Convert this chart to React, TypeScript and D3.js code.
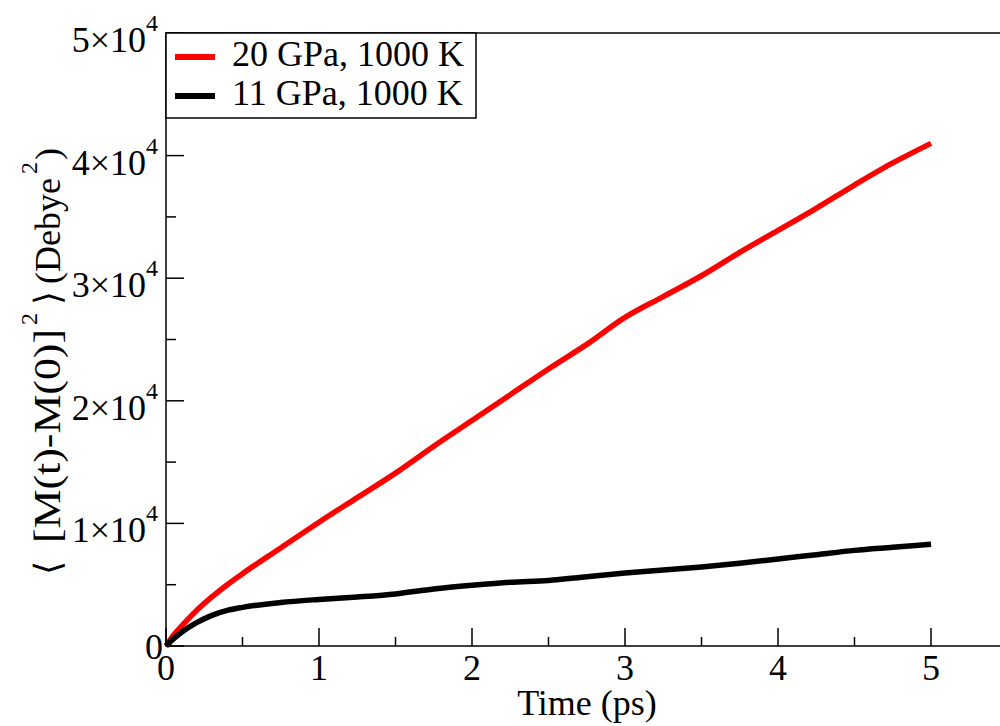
import React, { useRef, useEffect } from 'react';
import * as d3 from 'd3';

// time in ps
const times = [0, 0.05, 0.1, 0.2, 0.3, 0.4, 0.5, 0.75, 1, 1.25, 1.5, 1.75, 2, 2.25, 2.5, 2.75, 3, 3.25, 3.5, 3.75, 4, 4.25, 4.5, 4.75, 5];
// <[M(t)-M(0)]^2> in Debye^2
const gpa20 = [0, 900, 1600, 2900, 4000, 5000, 5900, 8000, 10100, 12100, 14100, 16300, 18400, 20500, 22600, 24600, 26800, 28500, 30200, 32100, 33900, 35700, 37600, 39400, 41000];
const gpa11 = [0, 600, 1100, 1900, 2500, 2900, 3150, 3550, 3800, 4000, 4250, 4650, 4950, 5200, 5350, 5650, 5950, 6200, 6450, 6750, 7100, 7450, 7800, 8050, 8300];

const seriesNames = ['20 GPa, 1000 K', '11 GPa, 1000 K'];
const seriesColors = ['#ff0000', '#000000'];

const xTicks = [0, 1, 2, 3, 4, 5];
const xMinorTicks = [0.5, 1.5, 2.5, 3.5, 4.5, 5.5];
const yTicks = [0, 10000, 20000, 30000, 40000, 50000];
const yMinorTicks = [5000, 15000, 25000, 35000, 45000];

const FONT = '"Liberation Serif", "Times New Roman", serif';

const App = () => {
  const svgRef = useRef<SVGSVGElement>(null);

  useEffect(() => {
    const width = 1000;
    const height = 726;
    const left = 166;
    const top = 33;
    const bottom = 646;

    const svg = d3.select(svgRef.current);
    svg.selectAll('*').remove();
    svg.attr('width', width).attr('height', height).attr('font-family', FONT);

    const x = d3.scaleLinear().domain([0, 5.5]).range([left, left + 153 * 5.5]);
    const y = d3.scaleLinear().domain([0, 50000]).range([bottom, top]);

    svg.append('rect').attr('width', width).attr('height', height).attr('fill', '#fff');

    // data lines
    const line = d3.line<[number, number]>()
      .curve(d3.curveMonotoneX)
      .x(d => x(d[0]))
      .y(d => y(d[1]));

    [gpa20, gpa11].forEach((vals, i) => {
      svg.append('path')
        .datum(times.map((t, j) => [t, vals[j]] as [number, number]))
        .attr('fill', 'none')
        .attr('stroke', seriesColors[i])
        .attr('stroke-width', 5.5)
        .attr('stroke-linejoin', 'round')
        .attr('d', line);
    });

    // frame
    svg.append('rect')
      .attr('x', x(0)).attr('y', y(50000))
      .attr('width', x(5.5) - x(0)).attr('height', y(0) - y(50000))
      .attr('fill', 'none').attr('stroke', '#000').attr('stroke-width', 1.5);

    // ticks, pointing inward
    const g = svg.append('g').attr('stroke', '#000').attr('stroke-width', 1.5);
    xTicks.forEach(t => {
      g.append('line').attr('x1', x(t)).attr('x2', x(t)).attr('y1', bottom).attr('y2', bottom - 18);
    });
    xMinorTicks.forEach(t => {
      g.append('line').attr('x1', x(t)).attr('x2', x(t)).attr('y1', bottom).attr('y2', bottom - 9);
    });
    yTicks.forEach(v => {
      g.append('line').attr('x1', left).attr('x2', left + 18).attr('y1', y(v)).attr('y2', y(v));
    });
    yMinorTicks.forEach(v => {
      g.append('line').attr('x1', left).attr('x2', left + 10).attr('y1', y(v)).attr('y2', y(v));
    });

    // tick labels
    xTicks.forEach(t => {
      svg.append('text')
        .attr('x', x(t)).attr('y', bottom + 34)
        .attr('text-anchor', 'middle').attr('font-size', 36)
        .text(String(t));
    });
    yTicks.forEach(v => {
      if (v === 0) {
        svg.append('text')
          .attr('x', 163).attr('y', y(v) + 13)
          .attr('text-anchor', 'end').attr('font-size', 36)
          .text('0');
        return;
      }
      const txt = svg.append('text')
        .attr('x', 158).attr('y', y(v) + 19)
        .attr('text-anchor', 'end').attr('font-size', 36);
      txt.append('tspan').text(`${v / 10000}×10`);
      txt.append('tspan').attr('font-size', 24).attr('dy', -21).text('4');
    });

    // axis titles
    svg.append('text')
      .attr('x', 587).attr('y', 715)
      .attr('text-anchor', 'middle').attr('font-size', 36)
      .text('Time (ps)');

    // y title, pieces placed along the rotated baseline (text x = -page y)
    const yt = svg.append('g').attr('transform', 'translate(60,0) rotate(-90)');
    const piece = (s: string, at: number, size: number, rise = 0, len?: number) => {
      const t = yt.append('text').attr('x', -at).attr('y', -rise).attr('font-size', size).text(s);
      if (len) t.attr('textLength', len).attr('lengthAdjust', 'spacingAndGlyphs');
    };
    piece('\u27E8', 575, 36);
    piece('[M(t)-M(0)]', 543, 38, 0, 214);
    piece('2', 325, 24, 23);
    piece('\u27E9', 305, 36);
    piece('(Debye', 284, 36);
    piece('2', 174, 24, 23);
    piece(')', 160, 36);

    // legend
    const lg = svg.append('g');
    lg.append('rect')
      .attr('x', left).attr('y', top).attr('width', 310).attr('height', 85)
      .attr('fill', '#fff').attr('stroke', '#000').attr('stroke-width', 1.5);
    seriesNames.forEach((name, i) => {
      const yy = 57 + i * 39;
      lg.append('line')
        .attr('x1', 175).attr('x2', 215).attr('y1', yy).attr('y2', yy)
        .attr('stroke', seriesColors[i]).attr('stroke-width', 6);
      lg.append('text')
        .attr('x', 232).attr('y', yy + 9)
        .attr('font-size', 36)
        .text(name);
    });
  }, []);

  return <svg ref={svgRef} style={{ position: 'absolute', left: 0, top: 0 }}></svg>;
};

export default App;
